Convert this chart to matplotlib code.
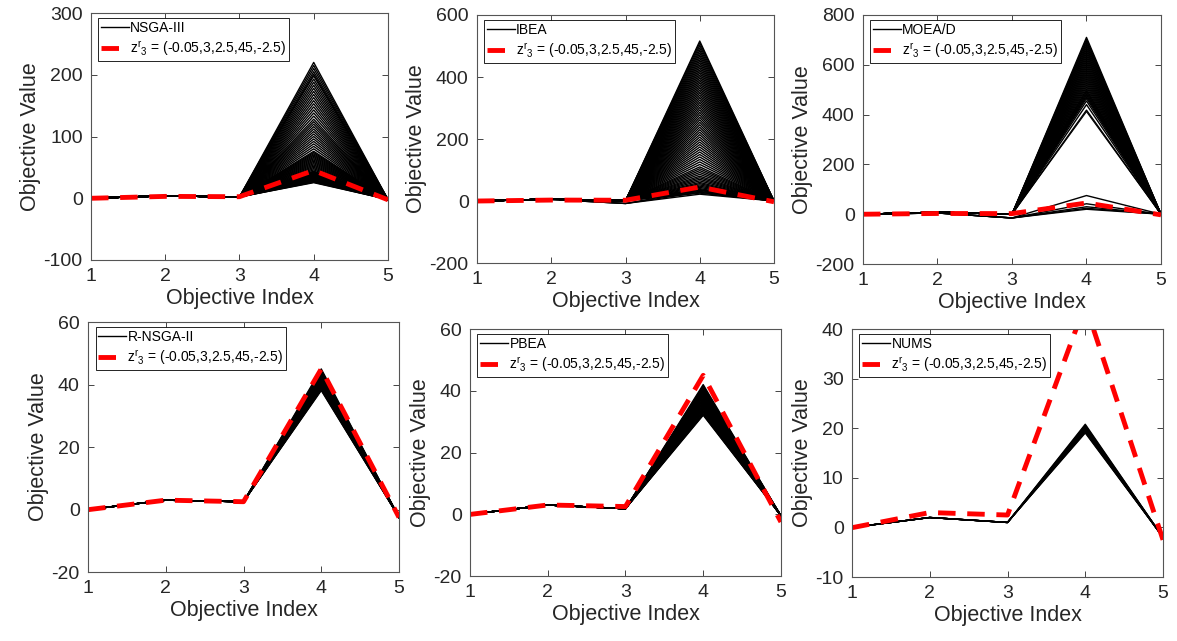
import numpy as np
import matplotlib
matplotlib.use("Agg")
import matplotlib.pyplot as plt

plt.rcParams['font.family'] = ['Liberation Sans', 'DejaVu Sans']
plt.rcParams['mathtext.fontset'] = 'custom'
plt.rcParams['mathtext.rm'] = 'Liberation Sans'
plt.rcParams['mathtext.it'] = 'Liberation Sans'
plt.rcParams['axes.unicode_minus'] = False

# Данные
objectives = [1, 2, 3, 4, 5]
ref_point = [-0.05, 3, 2.5, 45, -2.5]
ref_label = r'z$^{\rm r}$$_{\rm 3}$ = (-0.05,3,2.5,45,-2.5)'

names = ['NSGA-III', 'IBEA', 'MOEA/D', 'R-NSGA-II', 'PBEA', 'NUMS']

# значения целей 1,2,3,5 (общие) и значения цели 4 для каждого решения
nsga3_base = [0, 4, 2, -2]
nsga3_peaks = [25, 26, 27, 28, 29, 30, 31, 32, 33, 34, 35, 36, 37, 38, 39, 40, 41, 42,
               43, 44, 46, 48, 50, 52, 54, 56, 58, 60, 62, 64, 66, 68, 70, 72, 74, 76,
               80, 84, 88, 92, 96, 100, 104, 108, 112, 116, 120, 124, 128,
               133, 138, 143, 148, 153, 158, 163, 168, 173, 178, 183, 188, 193, 198,
               201, 205, 210, 215, 220]

ibea_base = [0, 6, 1, 0]
ibea_peaks = [25, 28, 31, 34, 37, 40, 44, 48, 52, 56, 60, 65, 70, 75, 80, 86, 92, 98,
              104, 110, 118, 126, 134, 142, 150, 158, 166, 174, 182, 190, 198, 206, 214,
              222, 230, 238, 246, 254, 262, 270, 278, 286, 294, 302, 310, 318, 326, 334,
              342, 350, 358, 366, 374, 382, 390, 398, 406, 414, 422, 430, 438, 446, 454,
              462, 470, 478, 486, 494, 502, 510, 516]
ibea_low_base = [0, 5, -8, 0]
ibea_low_peaks = [22, 28, 35]

moea_base = [0, 8, 0, 0]
moea_peaks = [412, 418, 440, 455, 465, 472, 478, 484, 490, 496, 502, 510, 518, 526, 534,
              542, 550, 558, 566, 574, 582, 590, 598, 606, 614, 622, 630, 638, 646, 654,
              662, 670, 678, 686, 694, 702, 710]
moea_low_base = [0, 5, -15, 0]
moea_low_peaks = [20, 24, 30, 42, 75]

rnsga2_base = [0, 3, 2.5, -2.5]
rnsga2_peaks = [38, 38.3, 38.6, 39, 39.3, 39.6, 40, 40.3, 40.6, 41, 41.3, 41.6, 42, 42.3,
                42.6, 43, 43.3, 43.6, 44, 44.3, 44.6, 45]

pbea_base = [0, 3, 1.8, -0.5]
pbea_peaks = [32, 32.3, 32.6, 33, 33.3, 33.6, 34, 34.3, 34.6, 35, 35.3, 35.6, 36, 36.3,
              36.6, 37, 37.3, 37.6, 38, 38.3, 38.6, 39, 39.3, 39.6, 40, 40.3, 40.6, 41,
              41.3, 41.6, 42]

nums_base = [0, 2, 1, -2]
nums_peaks = [19, 19.2, 19.4, 19.6, 19.8, 20, 20.2, 20.4, 20.6, 20.8]

ylims = [(-100, 300), (-200, 600), (-200, 800), (-20, 60), (-20, 60), (-10, 40)]
ysteps = [100, 200, 200, 20, 20, 10]

groups = [
    [(nsga3_base, nsga3_peaks)],
    [(ibea_base, ibea_peaks), (ibea_low_base, ibea_low_peaks)],
    [(moea_base, moea_peaks), (moea_low_base, moea_low_peaks)],
    [(rnsga2_base, rnsga2_peaks)],
    [(pbea_base, pbea_peaks)],
    [(nums_base, nums_peaks)],
]

# положения осей в долях фигуры
positions = [
    [0.0773, 0.5944, 0.2523, 0.3853],
    [0.4053, 0.5897, 0.2523, 0.3869],
    [0.7332, 0.5881, 0.2532, 0.3885],
    [0.0748, 0.1076, 0.2642, 0.3900],
    [0.3993, 0.1014, 0.2642, 0.3853],
    [0.7239, 0.0998, 0.2642, 0.3869],
]

fig = plt.figure(figsize=(11.77, 6.41), dpi=100)
axc = '#262626'

for i in range(6):
    ax = fig.add_axes(positions[i])
    first = None
    for base, peaks in groups[i]:
        for p in peaks:
            vals = [base[0], base[1], base[2], p, base[3]]
            ln, = ax.plot(objectives, vals, color='black', lw=1.0)
            if first is None:
                first = ln
    red, = ax.plot(objectives, ref_point, color='red', lw=3.5, dashes=(3.6, 2.4))
    ax.set_xlim(1, 5)
    ax.set_ylim(*ylims[i])
    ax.set_xticks(objectives)
    ax.yaxis.set_major_locator(plt.MultipleLocator(ysteps[i]))
    ax.tick_params(direction='in', top=True, right=True, length=4, width=0.6,
                   labelsize=14, colors=axc, pad=6)
    for s in ax.spines.values():
        s.set_color('#555555')
        s.set_linewidth(0.8)
    ax.set_xlabel('Objective Index', fontsize=15.5, color=axc, labelpad=2)
    ax.set_ylabel('Objective Value', fontsize=15.5, color=axc, labelpad=2)
    leg = ax.legend([first, red], [names[i], ref_label], loc='upper left',
                    bbox_to_anchor=(0.024, 0.98), borderaxespad=0, fontsize=10,
                    fancybox=False, framealpha=1, edgecolor='black',
                    handlelength=2.0, handletextpad=0.1, borderpad=0.2,
                    labelspacing=0.3)
    leg.get_frame().set_linewidth(0.6)
    first.set_linewidth(0.8)

fig.savefig("out.png", dpi=100)
